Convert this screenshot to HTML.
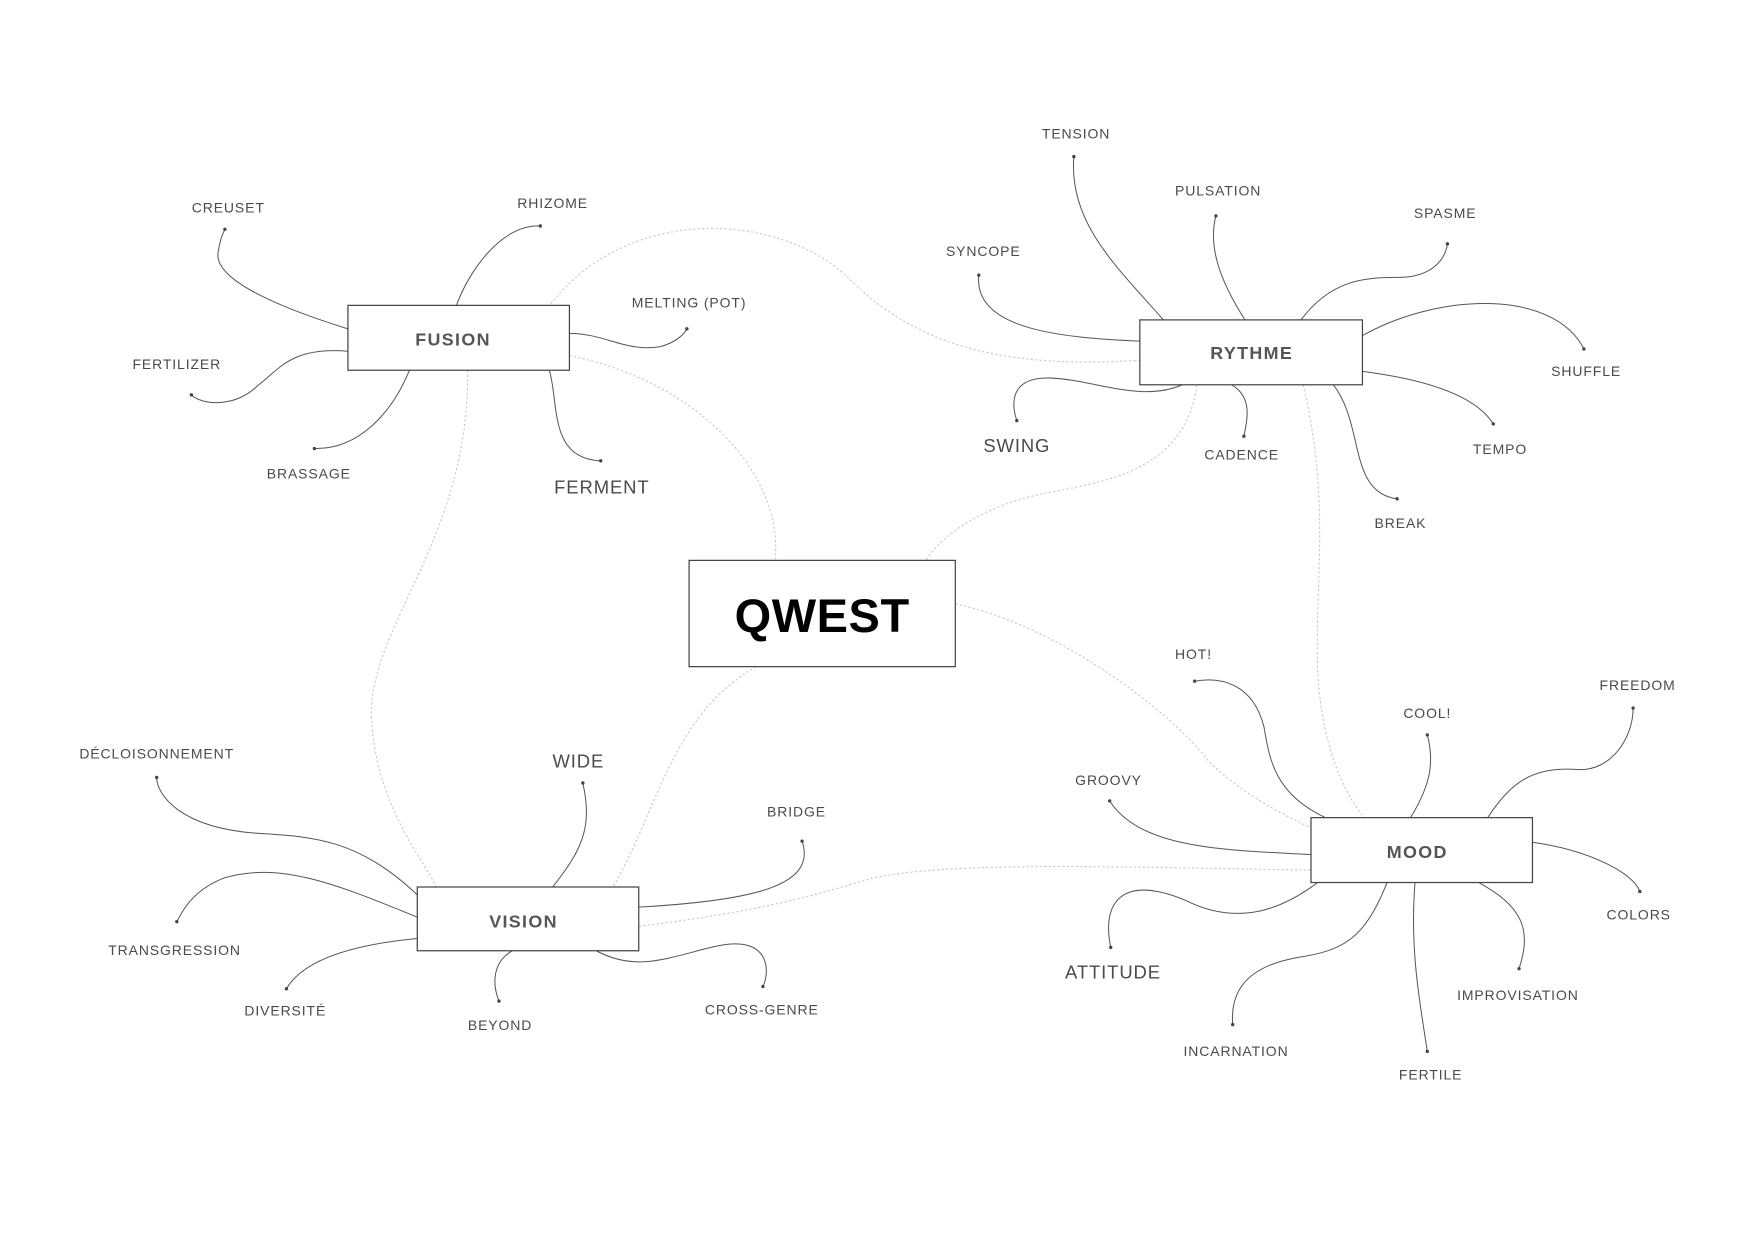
<!DOCTYPE html>
<html><head><meta charset="utf-8"><style>
html,body{margin:0;padding:0;background:#fff;}
svg{display:block;}
text{font-family:"Liberation Sans",sans-serif;fill:#4a4a4a;text-anchor:middle;}
.s{font-size:12.5px;letter-spacing:0.8px;}
.l{font-size:16.5px;letter-spacing:0.8px;}
.b{font-size:16px;font-weight:bold;letter-spacing:1.2px;fill:#555;}
.c{fill:none;stroke:#555;stroke-width:0.9;}
.d{fill:none;stroke:#c8c8c8;stroke-width:1;stroke-dasharray:2 2;}
.box{fill:#fff;stroke:#444;stroke-width:1.1;}
</style></head><body>
<svg width="1754" height="1240" viewBox="0 0 1568 1108.6" xmlns="http://www.w3.org/2000/svg">
<g class="d">
<path d="M490,275 C560,180 700,190 760,250 C820,310 900,330 1019,322"/>
<path d="M509,318 C620,340 700,420 693,500"/>
<path d="M418,331 C420,480 330,560 332,640 C335,720 380,770 390,793"/>
<path d="M1070,344 C1060,420 990,430 940,440 C880,450 840,480 828,501"/>
<path d="M1165,344 C1190,450 1175,520 1178,600 C1182,680 1210,720 1220,731"/>
<path d="M854,540 C950,560 1050,640 1080,680 C1110,710 1150,730 1172,740"/>
<path d="M676,596 C600,640 590,720 548,793"/>
<path d="M571,828 C680,815 730,800 780,785 C850,770 1000,775 1172,778"/>
</g>
<g class="c">
<path d="M311,294 C250,275 190,250 195,225 C197,212 200,207 201,205"/>
<path d="M408,273 C420,240 450,200 483,202"/>
<path d="M509,298 C540,298 560,315 590,310 C605,306 612,298 614,294"/>
<path d="M491,331 C500,360 490,410 537,412"/>
<path d="M366,331 C350,370 320,402 281,401"/>
<path d="M311,314 C260,310 250,330 230,345 C210,365 180,362 171,353"/>
<path d="M1040,286 C1000,240 955,200 960,140"/>
<path d="M1113,286 C1090,250 1080,220 1087,193"/>
<path d="M1163,286 C1190,250 1220,248 1250,248 C1280,248 1292,232 1294,218"/>
<path d="M1019,305 C950,302 870,295 875,246"/>
<path d="M1218,300 C1290,260 1390,260 1416,312"/>
<path d="M1218,332 C1280,340 1320,355 1335,379"/>
<path d="M1192,344 C1220,380 1205,440 1249,446"/>
<path d="M1101,344 C1120,355 1115,375 1112,390"/>
<path d="M1057,344 C1020,360 980,340 940,338 C900,336 905,365 909,376"/>
<path d="M1185,731 C1140,710 1135,680 1130,650 C1120,610 1090,605 1068,609"/>
<path d="M1261,731 C1280,700 1282,680 1276,657"/>
<path d="M1330,731 C1350,700 1370,685 1410,688 C1440,690 1460,660 1460,633"/>
<path d="M1172,764 C1100,760 1020,760 992,716"/>
<path d="M1370,753 C1420,760 1460,780 1466,797"/>
<path d="M1322,789 C1360,810 1370,830 1358,866"/>
<path d="M1265,789 C1260,850 1270,900 1276,940"/>
<path d="M1240,789 C1220,840 1200,850 1160,856 C1110,865 1100,890 1102,916"/>
<path d="M1178,789 C1150,810 1110,830 1060,805 C1000,780 985,810 993,847"/>
<path d="M373,800 C320,750 280,748 230,745 C160,740 140,710 140,695"/>
<path d="M494,793 C520,760 530,740 521,700"/>
<path d="M571,811 C680,805 730,790 717,752"/>
<path d="M373,820 C300,790 250,770 200,785 C175,795 165,810 158,824"/>
<path d="M373,839 C310,845 270,860 256,884"/>
<path d="M458,850 C440,860 440,880 446,895"/>
<path d="M533,850 C570,870 600,855 640,846 C690,835 688,870 682,882"/>
</g>
<g fill="#444">
<circle cx="201" cy="205" r="1.5"/><circle cx="483" cy="202" r="1.5"/><circle cx="614" cy="294" r="1.5"/><circle cx="537" cy="412" r="1.5"/><circle cx="281" cy="401" r="1.5"/><circle cx="171" cy="353" r="1.5"/>
<circle cx="960" cy="140" r="1.5"/><circle cx="1087" cy="193" r="1.5"/><circle cx="1294" cy="218" r="1.5"/><circle cx="875" cy="246" r="1.5"/><circle cx="1416" cy="312" r="1.5"/><circle cx="1335" cy="379" r="1.5"/><circle cx="1249" cy="446" r="1.5"/><circle cx="1112" cy="390" r="1.5"/><circle cx="909" cy="376" r="1.5"/>
<circle cx="1068" cy="609" r="1.5"/><circle cx="1276" cy="657" r="1.5"/><circle cx="1460" cy="633" r="1.5"/><circle cx="992" cy="716" r="1.5"/><circle cx="1466" cy="797" r="1.5"/><circle cx="1358" cy="866" r="1.5"/><circle cx="1276" cy="940" r="1.5"/><circle cx="1102" cy="916" r="1.5"/><circle cx="993" cy="847" r="1.5"/>
<circle cx="140" cy="695" r="1.5"/><circle cx="521" cy="700" r="1.5"/><circle cx="717" cy="752" r="1.5"/><circle cx="158" cy="824" r="1.5"/><circle cx="256" cy="884" r="1.5"/><circle cx="446" cy="895" r="1.5"/><circle cx="682" cy="882" r="1.5"/>
</g>
<rect class="box" x="311" y="273" width="198" height="58"/>
<rect class="box" x="1019" y="286" width="199" height="58"/>
<rect class="box" x="373" y="793" width="198" height="57"/>
<rect class="box" x="1172" y="731" width="198" height="58"/>
<rect class="box" x="616" y="501" width="238" height="95"/>
<text class="b" x="405" y="309">FUSION</text>
<text class="b" x="1119" y="321">RYTHME</text>
<text class="b" x="468" y="829">VISION</text>
<text class="b" x="1267" y="767">MOOD</text>
<text x="735" y="565" style="font-size:42px;font-weight:900;fill:#000;letter-spacing:0.5px">QWEST</text>
<g class="s">
<text x="204" y="190">CREUSET</text><text x="494" y="186">RHIZOME</text><text x="616" y="275">MELTING (POT)</text><text x="158" y="330">FERTILIZER</text><text x="276" y="428">BRASSAGE</text>
<text x="962" y="124">TENSION</text><text x="1089" y="175">PULSATION</text><text x="1292" y="195">SPASME</text><text x="879" y="229">SYNCOPE</text><text x="1418" y="336">SHUFFLE</text><text x="1341" y="406">TEMPO</text><text x="1252" y="472">BREAK</text><text x="1110" y="411">CADENCE</text>
<text x="1067" y="589">HOT!</text><text x="1276" y="642">COOL!</text><text x="1464" y="617">FREEDOM</text><text x="991" y="702">GROOVY</text><text x="1465" y="822">COLORS</text><text x="1357" y="894">IMPROVISATION</text><text x="1279" y="965">FERTILE</text><text x="1105" y="944">INCARNATION</text>
<text x="140" y="678">DÉCLOISONNEMENT</text><text x="712" y="730">BRIDGE</text><text x="156" y="854">TRANSGRESSION</text><text x="255" y="908">DIVERSITÉ</text><text x="447" y="921">BEYOND</text><text x="681" y="907">CROSS-GENRE</text>
</g>
<g class="l">
<text x="538" y="441">FERMENT</text><text x="909" y="404">SWING</text><text x="995" y="875">ATTITUDE</text><text x="517" y="686">WIDE</text>
</g>
</svg>
</body></html>
